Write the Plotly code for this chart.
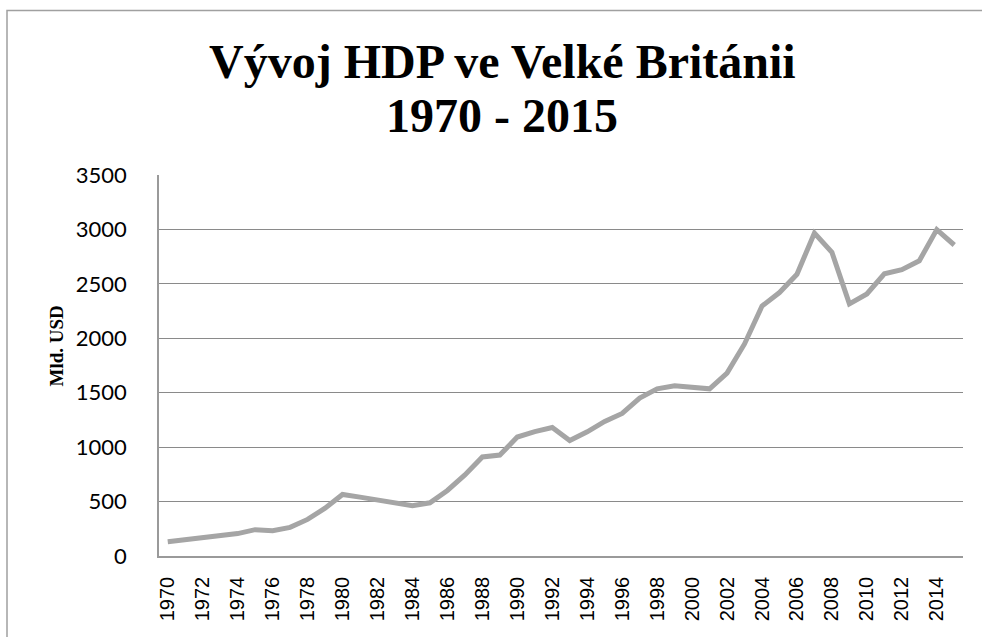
import plotly.graph_objects as go

# UK GDP, current USD billions
years = list(range(1970, 2016))
gdp = [131, 148, 170, 193, 206, 242, 233, 263, 336, 439,
       565, 541, 515, 490, 462, 489, 602, 745, 910, 927,
       1093, 1143, 1180, 1061, 1141, 1236, 1310, 1451, 1536, 1564,
       1554, 1536, 1680, 1948, 2296, 2420, 2588, 2967, 2790, 2316,
       2407, 2592, 2630, 2712, 2998, 2857]
tick_years = list(range(1970, 2016, 2))
y_ticks = [0, 500, 1000, 1500, 2000, 2500, 3000, 3500]
title_lines = ['Vývoj HDP ve Velké Británii', '1970 - 2015']

fig = go.Figure()

fig.add_trace(go.Scatter(
    x=years,
    y=gdp,
    mode='lines',
    line=dict(color='#A5A5A5', width=5),
    showlegend=False,
    hoverinfo='x+y'
))

title_font = dict(family='Liberation Serif', size=48, color='black', weight='bold')

# plot area: x 159..963, y 175..556 (pixels)
def px_x(px):
    return (px - 159) / 804

def px_y(py):
    return (556 - py) / 381

fig.update_layout(
    width=982,
    height=637,
    margin=dict(l=159, r=19, t=175, b=81),
    paper_bgcolor='white',
    plot_bgcolor='white',
    xaxis=dict(
        range=[1969.5, 2015.5],
        tickmode='array',
        tickvals=tick_years,
        ticktext=[str(y) for y in tick_years],
        tickangle=-90,
        tickfont=dict(family='Liberation Sans', size=20, color='black'),
        showgrid=False,
        showline=True,
        linecolor='#9A9A9A',
        linewidth=1.5,
        zeroline=False,
        ticks='',
        ticklabelstandoff=11
    ),
    yaxis=dict(
        range=[0, 3500],
        tickmode='array',
        tickvals=y_ticks,
        tickfont=dict(family='Lato', size=22, color='black'),
        showgrid=True,
        gridcolor='#8A8A8A',
        gridwidth=1,
        showline=True,
        linecolor='#9A9A9A',
        linewidth=1.5,
        zeroline=False,
        ticks='',
        ticklabelstandoff=26
    ),
    shapes=[dict(
        type='rect', xref='paper', yref='paper',
        x0=px_x(7), x1=1.2,
        y0=-0.5, y1=px_y(10.5),
        line=dict(color='#A0A0A0', width=1.5),
        fillcolor='rgba(0,0,0,0)', layer='below'
    )],
    annotations=[
        dict(text=title_lines[0], xref='paper', yref='paper',
             x=px_x(502), y=px_y(61), xanchor='center', yanchor='middle',
             showarrow=False, font=title_font),
        dict(text=title_lines[1], xref='paper', yref='paper',
             x=px_x(502), y=px_y(116), xanchor='center', yanchor='middle',
             showarrow=False, font=title_font),
        dict(text='Mld. USD', xref='paper', yref='paper',
             x=px_x(56), y=px_y(346.5), xanchor='center', yanchor='middle',
             textangle=-90, showarrow=False,
             font=dict(family='Liberation Serif', size=19, color='black', weight='bold')),
    ]
)

fig.write_html("out.html", config={'displayModeBar': False},
               post_script="document.body.style.margin='0';")
